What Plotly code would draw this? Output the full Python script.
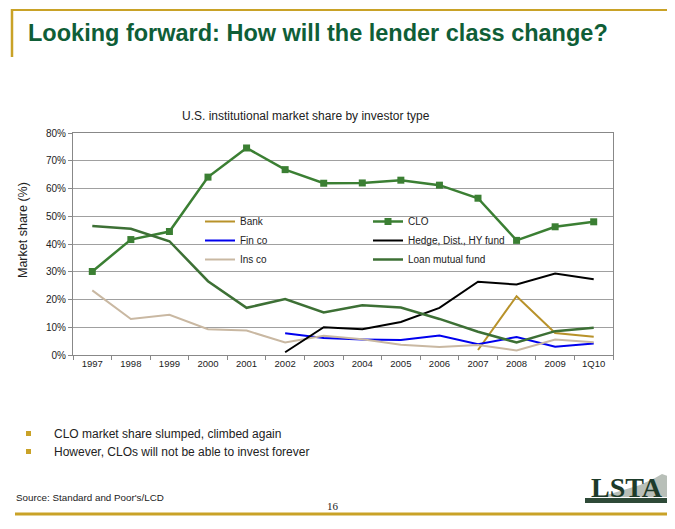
import plotly.graph_objects as go

# Data (market share, %)
periods = ["1997", "1998", "1999", "2000", "2001", "2002", "2003",
           "2004", "2005", "2006", "2007", "2008", "2009", "1Q10"]
bank = [None, None, None, None, None, None, None,
        None, None, None, 1.8, 21.2, 7.9, 6.6]
fin_co = [None, None, None, None, None, 7.8, 6.1,
          5.6, 5.4, 7.0, 3.9, 6.5, 3.0, 4.1]
ins_co = [23.3, 13.0, 14.5, 9.3, 8.8, 4.5, 6.9,
          5.7, 3.7, 2.9, 3.6, 1.6, 5.6, 4.6]
clo = [30.1, 41.6, 44.5, 64.1, 74.6, 66.8, 61.9,
       62.0, 63.0, 61.2, 56.5, 41.3, 46.2, 48.0]
hedge = [None, None, None, None, None, 1.0, 10.0,
         9.3, 11.9, 17.0, 26.4, 25.4, 29.4, 27.3]
loan_fund = [46.5, 45.5, 41.0, 26.6, 17.0, 20.2, 15.3,
             17.9, 17.1, 13.0, 8.4, 4.5, 8.6, 9.8]

y_ticks = [0, 10, 20, 30, 40, 50, 60, 70, 80]

# page pixel positions; the browser puts an 8px margin round the figure
PAGE_W, PAGE_H, OFF = 675, 529, 8
L, R, T, B = 73, 613, 133, 355
GOLD = "#c9a227"
TITLE_GREEN = "#0f5e37"


def px_x(p):
    return (p - L) / (R - L)


def px_y(p):
    return (B - p) / (B - T)


fig = go.Figure()

# left-hand legend column
fig.add_trace(go.Scatter(x=periods, y=bank, name="Bank", mode="lines",
                         line=dict(color="#b8922a", width=2), legend="legend"))
fig.add_trace(go.Scatter(x=periods, y=fin_co, name="Fin co", mode="lines",
                         line=dict(color="#0000ee", width=2), legend="legend"))
fig.add_trace(go.Scatter(x=periods, y=ins_co, name="Ins co", mode="lines",
                         line=dict(color="#c9b8a2", width=2), legend="legend"))
# right-hand legend column
fig.add_trace(go.Scatter(x=periods, y=clo, name="CLO", mode="lines+markers",
                         line=dict(color="#3b7f33", width=2.5),
                         marker=dict(symbol="square", size=7, color="#3b7f33"),
                         legend="legend2"))
fig.add_trace(go.Scatter(x=periods, y=hedge, name="Hedge, Dist., HY fund", mode="lines",
                         line=dict(color="#000000", width=2), legend="legend2"))
fig.add_trace(go.Scatter(x=periods, y=loan_fund, name="Loan mutual fund", mode="lines",
                         line=dict(color="#3d7035", width=2.5), legend="legend2"))

legend_style = dict(bgcolor="rgba(0,0,0,0)", font=dict(size=10, color="#222"),
                    yanchor="top", xanchor="left", tracegroupgap=0, itemwidth=30)

fig.update_layout(
    width=PAGE_W - OFF, height=PAGE_H - OFF,
    margin=dict(l=L - OFF, r=PAGE_W - R, t=T - OFF, b=PAGE_H - B),
    paper_bgcolor="white", plot_bgcolor="white",
    font=dict(family="Liberation Sans, Arial, sans-serif", color="#222"),
    legend=dict(x=px_x(200), y=px_y(207), **legend_style),
    legend2=dict(x=px_x(368), y=px_y(207), **legend_style),
    xaxis=dict(type="category", range=[-0.5, len(periods) - 0.5],
               tickson="boundaries", ticks="outside", ticklen=4, tickcolor="#888",
               showline=True, linecolor="#888", linewidth=1, mirror=True,
               showgrid=False, tickfont=dict(size=9.5), fixedrange=True),
    yaxis=dict(range=[0, 80], tickvals=y_ticks,
               ticktext=[f"{v}%" for v in y_ticks],
               ticks="outside", ticklen=4, tickcolor="#888",
               showline=True, linecolor="#888", linewidth=1, mirror=True,
               showgrid=True, gridcolor="#a0a0a0", gridwidth=1,
               zeroline=False, tickfont=dict(size=10)),
    showlegend=True,
)

# slide decorations
shapes = [
    dict(type="line", xref="paper", yref="paper", x0=px_x(12), x1=px_x(668),
         y0=px_y(10), y1=px_y(10), line=dict(color=GOLD, width=2)),
    dict(type="line", xref="paper", yref="paper", x0=px_x(12), x1=px_x(12),
         y0=px_y(9), y1=px_y(57), line=dict(color=GOLD, width=2.5)),
    dict(type="line", xref="paper", yref="paper", x0=px_x(15), x1=px_x(668),
         y0=px_y(514), y1=px_y(514), line=dict(color=GOLD, width=3)),
    # bullets
    dict(type="rect", xref="paper", yref="paper", x0=px_x(26), x1=px_x(31),
         y0=px_y(431), y1=px_y(436), fillcolor=GOLD, line=dict(width=0)),
    dict(type="rect", xref="paper", yref="paper", x0=px_x(26), x1=px_x(31),
         y0=px_y(449), y1=px_y(454), fillcolor=GOLD, line=dict(width=0)),
    # logo mountain + stripe
    dict(type="path", xref="paper", yref="paper",
         path=(f"M {px_x(600)},{px_y(497)} L {px_x(640)},{px_y(485)} "
               f"L {px_x(655)},{px_y(478)} L {px_x(662)},{px_y(474)} "
               f"L {px_x(668)},{px_y(476)} L {px_x(668)},{px_y(497)} Z"),
         fillcolor="#b8bfb8", line=dict(width=0), layer="below"),
    dict(type="rect", xref="paper", yref="paper", x0=px_x(585), x1=px_x(668),
         y0=px_y(498), y1=px_y(503), fillcolor="#2e4a38", line=dict(width=0)),
]

annotations = [
    dict(text="<b>Looking forward: How will the lender class change?</b>",
         x=px_x(26), y=px_y(33), xanchor="left", yanchor="middle",
         font=dict(size=23.5, color=TITLE_GREEN)),
    dict(text="U.S. institutional market share by investor type",
         x=px_x(306), y=px_y(116), xanchor="center", yanchor="middle",
         font=dict(size=12, color="#222")),
    dict(text="Market share (%)", textangle=-90,
         x=px_x(23), y=px_y(230), xanchor="center", yanchor="middle",
         font=dict(size=12.5, color="#222")),
    dict(text="CLO market share slumped, climbed again",
         x=px_x(52), y=px_y(434), xanchor="left", yanchor="middle",
         font=dict(size=12, color="#222")),
    dict(text="However, CLOs will not be able to invest forever",
         x=px_x(52), y=px_y(452), xanchor="left", yanchor="middle",
         font=dict(size=12, color="#222")),
    dict(text="Source: Standard and Poor's/LCD",
         x=px_x(14), y=px_y(497), xanchor="left", yanchor="middle",
         font=dict(size=9.8, color="#222")),
    dict(text="16", x=px_x(333), y=px_y(506), xanchor="center", yanchor="middle",
         font=dict(size=11, color="#222", family="Liberation Serif, serif")),
    dict(text="<b>LSTA</b>", x=px_x(627), y=px_y(487), xanchor="center", yanchor="middle",
         font=dict(size=28, color="#1d3b2a", family="Liberation Serif, serif")),
]
for a in annotations:
    a.update(xref="paper", yref="paper", showarrow=False)

fig.update_layout(shapes=shapes, annotations=annotations)

fig.write_html("out.html")
